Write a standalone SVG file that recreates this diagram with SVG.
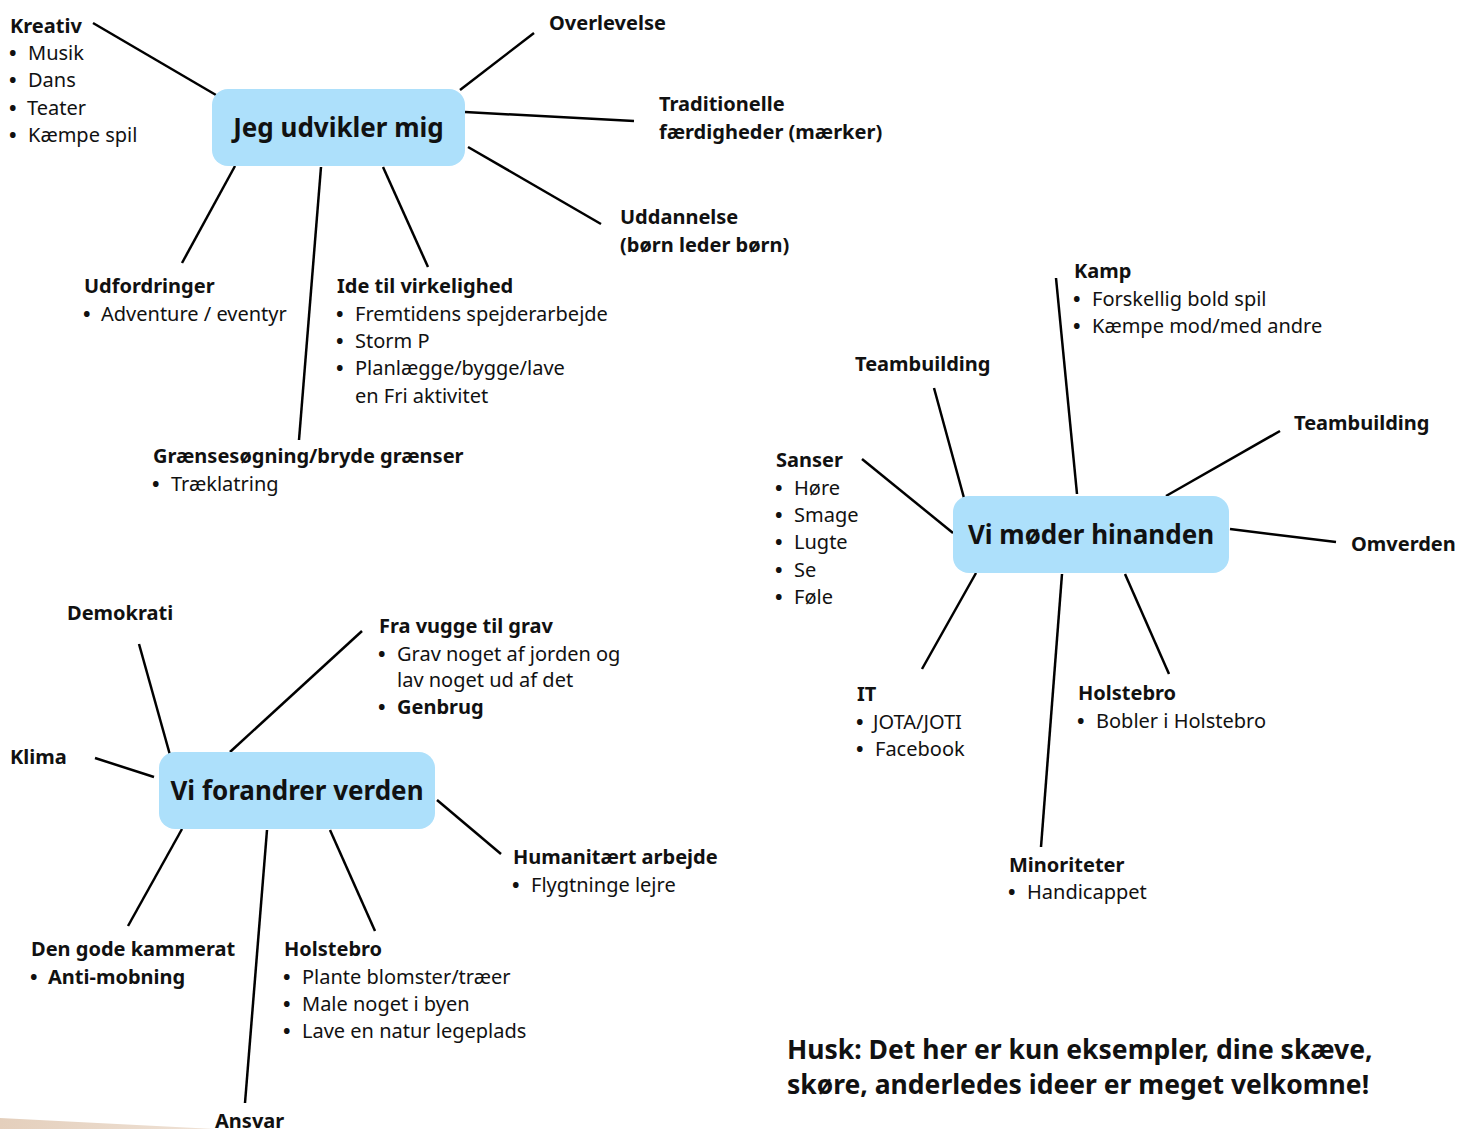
<svg xmlns="http://www.w3.org/2000/svg" width="1457" height="1129" viewBox="0 0 1457 1129">
<defs>
<linearGradient id="paper" x1="0" y1="0" x2="1" y2="0">
<stop offset="0" stop-color="#e4cfbc"/>
<stop offset="1" stop-color="#efe2d6"/>
</linearGradient>
</defs>
<style>
text{font-family:"Noto Sans","DejaVu Sans",sans-serif;fill:#111;}
.h{font-size:20px;font-weight:bold;}
.b{font-size:20px;}
.d{font-weight:bold;}
.hub{font-size:26px;font-weight:bold;}
.note{font-size:26.5px;font-weight:bold;}
.box{fill:#ade0fb;}
.c line{stroke:#000;stroke-width:2.5;stroke-linecap:butt;}
</style>
<rect width="1457" height="1129" fill="#fff"/>
<polygon points="0,1118 215,1129 0,1129" fill="url(#paper)"/>

<g id="connectors" class="c">
<line x1="93" y1="23" x2="216" y2="95"/>
<line x1="534" y1="33" x2="460" y2="90"/>
<line x1="465" y1="112" x2="634" y2="121"/>
<line x1="468" y1="147" x2="601" y2="224"/>
<line x1="235" y1="166" x2="182" y2="263"/>
<line x1="321" y1="167" x2="299" y2="440"/>
<line x1="383" y1="167" x2="428" y2="267"/>

<line x1="1056" y1="278" x2="1077" y2="494"/>
<line x1="934" y1="388" x2="964" y2="498"/>
<line x1="1280" y1="431" x2="1166" y2="496"/>
<line x1="862" y1="459" x2="953" y2="533"/>
<line x1="1230" y1="529" x2="1336" y2="542"/>
<line x1="976" y1="573" x2="922" y2="669"/>
<line x1="1062" y1="574" x2="1041" y2="847"/>
<line x1="1125" y1="574" x2="1169" y2="674"/>

<line x1="139" y1="644" x2="170" y2="755"/>
<line x1="95" y1="758" x2="154" y2="777"/>
<line x1="362" y1="631" x2="230" y2="752"/>
<line x1="437" y1="800" x2="501" y2="854"/>
<line x1="182" y1="829" x2="128" y2="926"/>
<line x1="267" y1="830" x2="245" y2="1103"/>
<line x1="330" y1="830" x2="375" y2="931"/>
</g>

<g id="hub-jeg-udvikler-mig">
<rect class="box" x="212" y="89" width="253" height="77" rx="16"/>
<text class="hub" x="338.5" y="137" text-anchor="middle">Jeg udvikler mig</text>
</g>
<g id="hub-vi-moder-hinanden">
<rect class="box" x="953" y="496" width="276" height="77" rx="16"/>
<text class="hub" x="1091" y="544" text-anchor="middle">Vi møder hinanden</text>
</g>
<g id="hub-vi-forandrer-verden">
<rect class="box" x="159" y="752" width="276" height="77" rx="16"/>
<text class="hub" x="297" y="800" text-anchor="middle">Vi forandrer verden</text>
</g>

<g id="kreativ">
<text class="h" x="10" y="33">Kreativ</text>
<text class="b" x="9" y="60"><tspan class="d">•</tspan><tspan x="28">Musik</tspan></text>
<text class="b" x="9" y="87"><tspan class="d">•</tspan><tspan x="28">Dans</tspan></text>
<text class="b" x="9" y="115"><tspan class="d">•</tspan><tspan x="27">Teater</tspan></text>
<text class="b" x="9" y="142"><tspan class="d">•</tspan><tspan x="28">Kæmpe spil</tspan></text>
</g>
<g id="overlevelse"><text class="h" x="549" y="30">Overlevelse</text></g>
<g id="traditionelle">
<text class="h" x="659" y="111">Traditionelle</text>
<text class="h" x="659" y="139">færdigheder (mærker)</text>
</g>
<g id="uddannelse">
<text class="h" x="620" y="224">Uddannelse</text>
<text class="h" x="620" y="252">(børn leder børn)</text>
</g>
<g id="udfordringer">
<text class="h" x="84" y="293">Udfordringer</text>
<text class="b" x="83" y="321"><tspan class="d">•</tspan><tspan x="101">Adventure / eventyr</tspan></text>
</g>
<g id="ide-til-virkelighed">
<text class="h" x="337" y="293">Ide til virkelighed</text>
<text class="b" x="336" y="321"><tspan class="d">•</tspan><tspan x="355">Fremtidens spejderarbejde</tspan></text>
<text class="b" x="336" y="348"><tspan class="d">•</tspan><tspan x="355">Storm P</tspan></text>
<text class="b" x="336" y="375"><tspan class="d">•</tspan><tspan x="355">Planlægge/bygge/lave</tspan></text>
<text class="b" x="355" y="403">en Fri aktivitet</text>
</g>
<g id="graensesogning">
<text class="h" x="153" y="463">Grænsesøgning/bryde grænser</text>
<text class="b" x="152" y="491"><tspan class="d">•</tspan><tspan x="171">Træklatring</tspan></text>
</g>

<g id="kamp">
<text class="h" x="1074" y="278">Kamp</text>
<text class="b" x="1073" y="306"><tspan class="d">•</tspan><tspan x="1092">Forskellig bold spil</tspan></text>
<text class="b" x="1073" y="333"><tspan class="d">•</tspan><tspan x="1092">Kæmpe mod/med andre</tspan></text>
</g>
<g id="teambuilding-1"><text class="h" x="855" y="371">Teambuilding</text></g>
<g id="teambuilding-2"><text class="h" x="1294" y="430">Teambuilding</text></g>
<g id="sanser">
<text class="h" x="776" y="467">Sanser</text>
<text class="b" x="775" y="495"><tspan class="d">•</tspan><tspan x="794">Høre</tspan></text>
<text class="b" x="775" y="522"><tspan class="d">•</tspan><tspan x="794">Smage</tspan></text>
<text class="b" x="775" y="549"><tspan class="d">•</tspan><tspan x="794">Lugte</tspan></text>
<text class="b" x="775" y="577"><tspan class="d">•</tspan><tspan x="794">Se</tspan></text>
<text class="b" x="775" y="604"><tspan class="d">•</tspan><tspan x="794">Føle</tspan></text>
</g>
<g id="omverden"><text class="h" x="1351" y="551">Omverden</text></g>
<g id="it">
<text class="h" x="857" y="701">IT</text>
<text class="b" x="856" y="729"><tspan class="d">•</tspan><tspan x="873">JOTA/JOTI</tspan></text>
<text class="b" x="856" y="756"><tspan class="d">•</tspan><tspan x="875">Facebook</tspan></text>
</g>
<g id="holstebro-1">
<text class="h" x="1078" y="700">Holstebro</text>
<text class="b" x="1077" y="728"><tspan class="d">•</tspan><tspan x="1096">Bobler i Holstebro</tspan></text>
</g>
<g id="minoriteter">
<text class="h" x="1009" y="872">Minoriteter</text>
<text class="b" x="1008" y="899"><tspan class="d">•</tspan><tspan x="1027">Handicappet</tspan></text>
</g>

<g id="demokrati"><text class="h" x="67" y="620">Demokrati</text></g>
<g id="klima"><text class="h" x="10" y="764">Klima</text></g>
<g id="fra-vugge-til-grav">
<text class="h" x="379" y="633">Fra vugge til grav</text>
<text class="b" x="378" y="661"><tspan class="d">•</tspan><tspan x="397">Grav noget af jorden og</tspan></text>
<text class="b" x="397" y="687">lav noget ud af det</text>
<text class="h" x="378" y="714"><tspan class="d">•</tspan><tspan x="397">Genbrug</tspan></text>
</g>
<g id="humanitaert-arbejde">
<text class="h" x="513" y="864">Humanitært arbejde</text>
<text class="b" x="512" y="892"><tspan class="d">•</tspan><tspan x="531">Flygtninge lejre</tspan></text>
</g>
<g id="den-gode-kammerat">
<text class="h" x="31" y="956">Den gode kammerat</text>
<text class="h" x="30" y="984"><tspan class="d">•</tspan><tspan x="48">Anti-mobning</tspan></text>
</g>
<g id="holstebro-2">
<text class="h" x="284" y="956">Holstebro</text>
<text class="b" x="283" y="984"><tspan class="d">•</tspan><tspan x="302">Plante blomster/træer</tspan></text>
<text class="b" x="283" y="1011"><tspan class="d">•</tspan><tspan x="302">Male noget i byen</tspan></text>
<text class="b" x="283" y="1038"><tspan class="d">•</tspan><tspan x="302">Lave en natur legeplads</tspan></text>
</g>
<g id="ansvar"><text class="h" x="215" y="1128">Ansvar</text></g>

<g id="note">
<text class="note" x="787" y="1059">Husk: Det her er kun eksempler, dine skæve,</text>
<text class="note" x="787" y="1094">skøre, anderledes ideer er meget velkomne!</text>
</g>
</svg>
